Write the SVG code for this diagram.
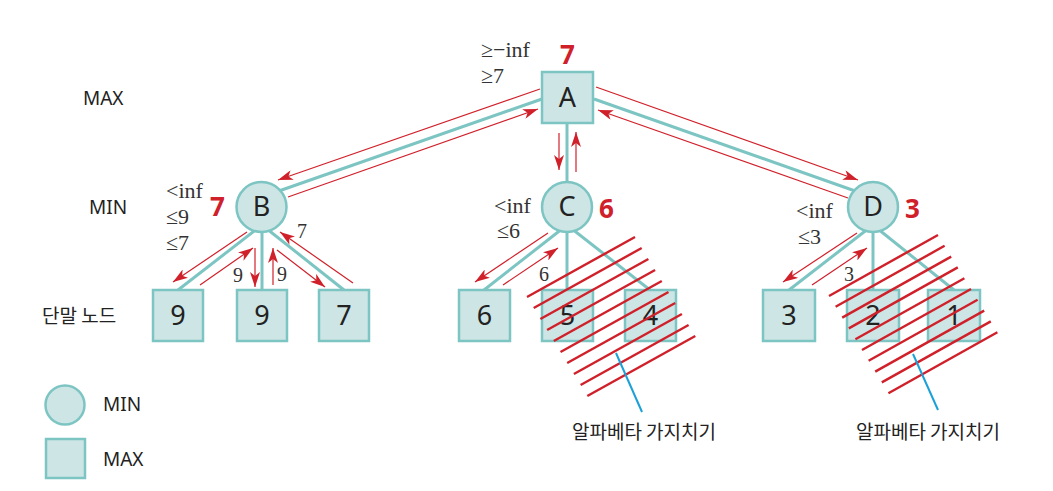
<svg xmlns="http://www.w3.org/2000/svg" width="1053" height="491" viewBox="0 0 1053 491">
<style>
.edge{stroke:#7cc5c3;stroke-width:3;fill:none}
.node{fill:#cde5e5;stroke:#7cc5c3;stroke-width:2.5}
.arr{stroke:#d0202a;stroke-width:1.2;fill:none;marker-end:url(#ah)}
.hatch{stroke:#d0202a;stroke-width:2.4}
.lead{stroke:#1ba0d8;stroke-width:2}
.lbl{font-family:"Noto Sans","Liberation Sans",sans-serif;font-size:19px;fill:#222}
.kr{font-family:"Noto Sans CJK KR","Noto Sans",sans-serif;font-size:19px;fill:#222}
.nl{font-family:"Noto Sans","Liberation Sans",sans-serif;font-size:27px;fill:#222;text-anchor:middle}
.sv{font-family:"Liberation Serif","DejaVu Serif",serif;font-size:22px;fill:#333}
.ev{font-family:"Liberation Serif","DejaVu Serif",serif;font-size:20px;fill:#333}
.rv{font-family:"Noto Sans","Liberation Sans",sans-serif;font-size:26px;font-weight:bold;fill:#d0202a}
</style>
<defs>
<marker id="ah" markerUnits="userSpaceOnUse" markerWidth="16" markerHeight="10" refX="15" refY="5" orient="auto">
<path d="M0,0 L15,5 L0,10 L4,5 z" fill="#d0202a"/>
</marker>
</defs>
<rect width="1053" height="491" fill="#ffffff"/>

<g id="row-labels">
<text class="lbl" x="83" y="105">MAX</text>
<text class="lbl" x="89" y="214">MIN</text>
<text class="kr" x="42" y="323">단말 노드</text>
</g>

<g id="connectors">
<line class="edge" x1="542" y1="99" x2="276" y2="192"/>
<line class="edge" x1="594" y1="99" x2="858" y2="192"/>
<line class="edge" x1="567" y1="124" x2="567" y2="190"/>
<line class="edge" x1="262" y1="225" x2="178" y2="290"/>
<line class="edge" x1="262" y1="225" x2="262" y2="290"/>
<line class="edge" x1="262" y1="225" x2="344" y2="290"/>
<line class="edge" x1="567" y1="225" x2="484" y2="290"/>
<line class="edge" x1="567" y1="225" x2="567" y2="290"/>
<line class="edge" x1="567" y1="225" x2="650" y2="290"/>
<line class="edge" x1="873" y1="225" x2="789" y2="290"/>
<line class="edge" x1="873" y1="225" x2="873" y2="290"/>
<line class="edge" x1="873" y1="225" x2="954" y2="290"/>

<line class="arr" x1="540" y1="89" x2="278" y2="180"/>
<line class="arr" x1="288" y1="197" x2="538" y2="109"/>
<line class="arr" x1="596" y1="87" x2="858" y2="180"/>
<line class="arr" x1="848" y1="198" x2="598" y2="110"/>
<line class="arr" x1="559" y1="133" x2="559" y2="170"/>
<line class="arr" x1="576" y1="172" x2="576" y2="132"/>

<line class="arr" x1="247" y1="232" x2="173" y2="282"/>
<line class="arr" x1="200" y1="285" x2="253" y2="248"/>
<line class="arr" x1="255" y1="248" x2="255" y2="287"/>
<line class="arr" x1="273" y1="285" x2="273" y2="248"/>
<line class="arr" x1="277" y1="250" x2="325" y2="287"/>
<line class="arr" x1="353" y1="283" x2="280" y2="232"/>

<line class="arr" x1="548" y1="233" x2="475" y2="282"/>
<line class="arr" x1="503" y1="285" x2="558" y2="248"/>

<line class="arr" x1="857" y1="233" x2="783" y2="282"/>
<line class="arr" x1="812" y1="285" x2="867" y2="248"/>
</g>

<g id="node-A">
<rect class="node" x="542" y="72" width="51" height="51"/>
<text class="nl" x="567.5" y="107">A</text>
</g>
<g id="node-B">
<circle class="node" cx="261.5" cy="207" r="25"/>
<text class="nl" x="261.5" y="216">B</text>
</g>
<g id="node-C">
<circle class="node" cx="567" cy="207" r="25"/>
<text class="nl" x="567" y="216">C</text>
</g>
<g id="node-D">
<circle class="node" cx="873" cy="207" r="25"/>
<text class="nl" x="873" y="216">D</text>
</g>

<g id="leaf-B1"><rect class="node" x="153" y="290" width="50" height="51"/><text class="nl" x="178" y="325">9</text></g>
<g id="leaf-B2"><rect class="node" x="237" y="290" width="50" height="51"/><text class="nl" x="262" y="325">9</text></g>
<g id="leaf-B3"><rect class="node" x="319" y="290" width="50" height="51"/><text class="nl" x="344" y="325">7</text></g>
<g id="leaf-C1"><rect class="node" x="459" y="290" width="51" height="51"/><text class="nl" x="484.5" y="325">6</text></g>
<g id="leaf-C2"><rect class="node" x="542" y="290" width="51" height="51"/><text class="nl" x="567.5" y="325">5</text></g>
<g id="leaf-C3"><rect class="node" x="625" y="290" width="51" height="51"/><text class="nl" x="650.5" y="325">4</text></g>
<g id="leaf-D1"><rect class="node" x="763" y="290" width="52" height="51"/><text class="nl" x="789" y="325">3</text></g>
<g id="leaf-D2"><rect class="node" x="847" y="290" width="52" height="51"/><text class="nl" x="873" y="325">2</text></g>
<g id="leaf-D3"><rect class="node" x="928" y="290" width="52" height="51"/><text class="nl" x="954" y="325">1</text></g>

<g id="annotations">
<text class="sv" x="481" y="57">≥−inf</text>
<text class="sv" x="481" y="83">≥7</text>
<text class="rv" x="560" y="64">7</text>
<text class="sv" x="166" y="198">&lt;inf</text>
<text class="sv" x="166" y="224">≤9</text>
<text class="sv" x="166" y="250">≤7</text>
<text class="rv" x="210" y="216">7</text>
<text class="sv" x="494" y="213">&lt;inf</text>
<text class="sv" x="497" y="238">≤6</text>
<text class="rv" x="599" y="218">6</text>
<text class="sv" x="796" y="218">&lt;inf</text>
<text class="sv" x="798" y="244">≤3</text>
<text class="rv" x="905" y="218">3</text>
<text class="ev" x="233" y="282">9</text>
<text class="ev" x="277" y="281">9</text>
<text class="ev" x="297" y="238">7</text>
<text class="ev" x="539" y="281">6</text>
<text class="ev" x="844" y="281">3</text>
</g>

<g id="pruning-C">
<line class="hatch" x1="527" y1="297" x2="635" y2="237"/>
<line class="hatch" x1="533.7" y1="308" x2="641.7" y2="248"/>
<line class="hatch" x1="540.4" y1="319" x2="648.4" y2="259"/>
<line class="hatch" x1="547.1" y1="330" x2="655.1" y2="270"/>
<line class="hatch" x1="553.8" y1="341" x2="661.8" y2="281"/>
<line class="hatch" x1="560.5" y1="352" x2="668.5" y2="292"/>
<line class="hatch" x1="567.2" y1="363" x2="675.2" y2="303"/>
<line class="hatch" x1="573.9" y1="374" x2="681.9" y2="314"/>
<line class="hatch" x1="580.6" y1="385" x2="688.6" y2="325"/>
<line class="hatch" x1="587.3" y1="396" x2="695.3" y2="336"/>
<line class="lead" x1="616" y1="353" x2="642" y2="412"/>
<text class="kr" x="644" y="439" text-anchor="middle">알파베타 가지치기</text>
</g>

<g id="pruning-D">
<line class="hatch" x1="829" y1="296" x2="938" y2="235"/>
<line class="hatch" x1="835.6" y1="306.8" x2="944.6" y2="245.8"/>
<line class="hatch" x1="842.2" y1="317.6" x2="951.2" y2="256.6"/>
<line class="hatch" x1="848.8" y1="328.4" x2="957.8" y2="267.4"/>
<line class="hatch" x1="855.4" y1="339.2" x2="964.4" y2="278.2"/>
<line class="hatch" x1="862" y1="350" x2="971" y2="289"/>
<line class="hatch" x1="868.6" y1="360.8" x2="977.6" y2="299.8"/>
<line class="hatch" x1="875.2" y1="371.6" x2="984.2" y2="310.6"/>
<line class="hatch" x1="881.8" y1="382.4" x2="990.8" y2="321.4"/>
<line class="hatch" x1="888.4" y1="393.2" x2="997.4" y2="332.2"/>
<line class="lead" x1="913" y1="354" x2="938" y2="410"/>
<text class="kr" x="928" y="439" text-anchor="middle">알파베타 가지치기</text>
</g>

<g id="legend">
<circle class="node" cx="65" cy="405" r="19.5"/>
<text class="lbl" x="103" y="411">MIN</text>
<rect class="node" x="46" y="439" width="39" height="39"/>
<text class="lbl" x="103" y="466">MAX</text>
</g>
</svg>
